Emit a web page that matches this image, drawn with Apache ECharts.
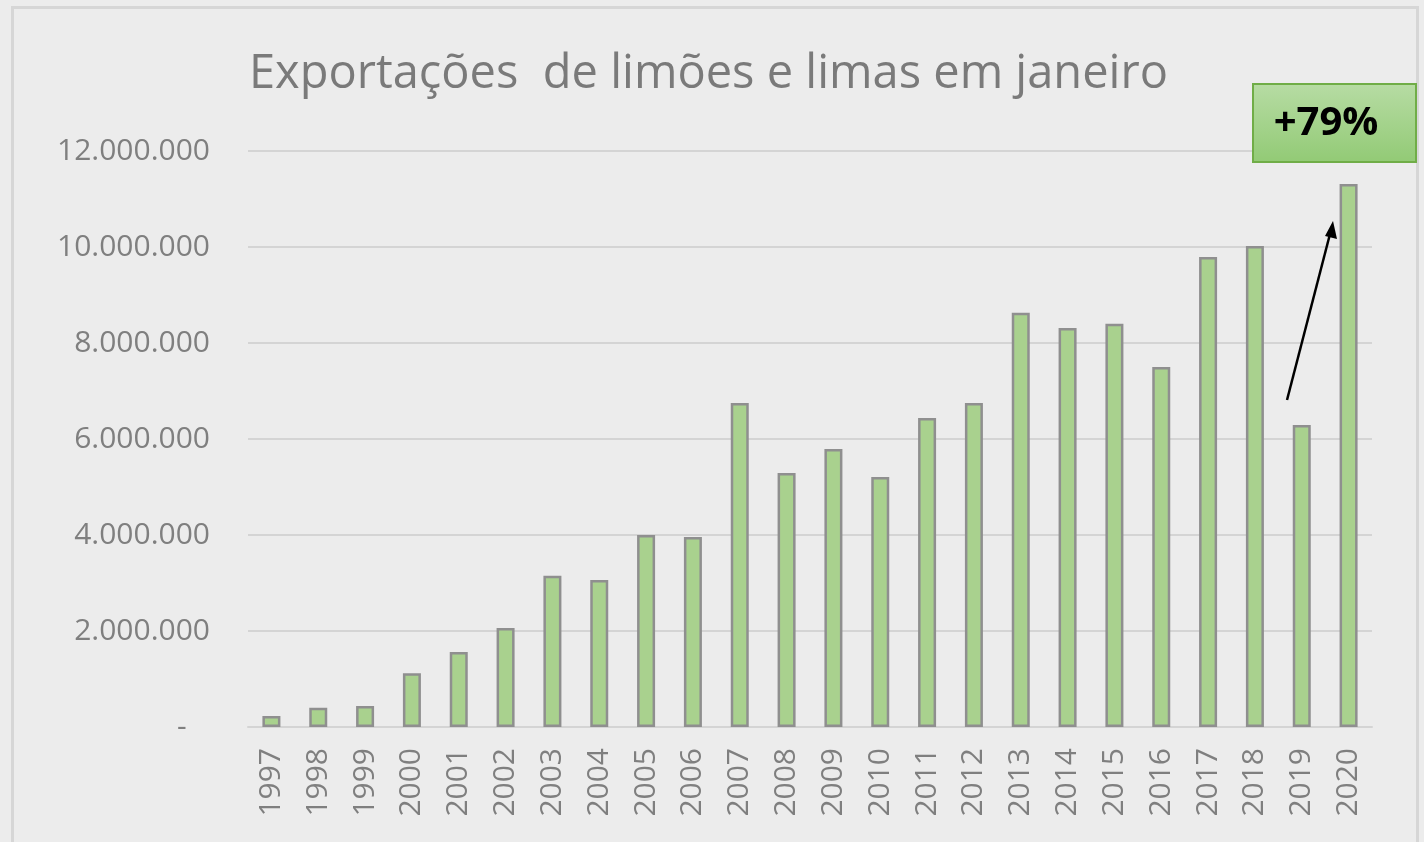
<!DOCTYPE html>
<html>
<head>
<meta charset="utf-8">
<script src="https://cdn.jsdelivr.net/npm/echarts@6/dist/echarts.min.js"></script>
<style>
html,body{margin:0;padding:0;background:#ececec;}
#chart{width:1424px;height:842px;}
</style>
</head>
<body>
<div id="chart"></div>
<script>
const years = ['1997','1998','1999','2000','2001','2002','2003','2004','2005','2006','2007','2008','2009','2010','2011','2012','2013','2014','2015','2016','2017','2018','2019','2020'];
const exportsJan = [230000,400000,440000,1120000,1560000,2060000,3150000,3060000,4000000,3960000,6750000,5290000,5790000,5210000,6440000,6750000,8630000,8310000,8400000,7500000,9790000,10020000,6290000,11310000];
const yTicks = [0,2000000,4000000,6000000,8000000,10000000,12000000];
const titleText = 'Exportações  de limões e limas em janeiro';
const annotationText = '+79%';

function fmt(v){
  if (v === 0) return '-   ';
  return String(v).replace(/\B(?=(\d{3})+(?!\d))/g, '.');
}

const chart = echarts.init(document.getElementById('chart'));
chart.setOption({
  backgroundColor: '#ececec',
  animation: false,
  title: {
    text: titleText,
    left: 244, top: 46,
    textStyle: {fontFamily: 'Open Sans', fontSize: 47, fontWeight: 'normal', color: '#7a7a7a'}
  },
  grid: {left: 248, right: 52, top: 151, bottom: 115, containLabel: false},
  xAxis: {
    type: 'category',
    data: years,
    axisLine: {lineStyle: {color: '#d4d4d4', width: 2}},
    axisTick: {show: false},
    axisLabel: {rotate: 90, color: '#7f7f7f', fontFamily: 'Open Sans', fontSize: 30, margin: 21}
  },
  yAxis: {
    type: 'value',
    min: yTicks[0], max: yTicks[yTicks.length-1], interval: yTicks[1]-yTicks[0],
    axisLine: {show: false},
    axisTick: {show: false},
    splitLine: {lineStyle: {color: '#d4d4d4', width: 2}},
    axisLabel: {formatter: fmt, color: '#7f7f7f', fontFamily: 'Open Sans', fontSize: 30, margin: 38}
  },
  series: [{
    type: 'bar',
    data: exportsJan,
    barWidth: 18,
    itemStyle: {color: '#a9d18e', borderColor: '#8f8f8f', borderWidth: 2.5}
  }],
  graphic: [
    {type: 'rect', left: 10, top: 5, shape: {width: 1405, height: 850}, style: {fill: 'none', stroke: '#d6d6d6', lineWidth: 3}, z: -1},
    {type: 'rect', left: 1252, top: 83, shape: {width: 163, height: 78},
      style: {fill: new echarts.graphic.LinearGradient(0,0,0,1,[{offset:0,color:'#b7dca4'},{offset:1,color:'#92ca75'}]), stroke: '#70ad47', lineWidth: 2}, z: 10},
    {type: 'text', x: 1326, y: 124, style: {text: annotationText, fontFamily: 'Open Sans', fontWeight: 'bold', fontSize: 40, fill: '#000', align: 'center', verticalAlign: 'middle'}, z: 11},
    {type: 'line', shape: {x1: 1287, y1: 400, x2: 1330, y2: 234}, style: {stroke: '#000', lineWidth: 2.5}, z: 10},
    {type: 'polygon', shape: {points: [[1333,221],[1325,236],[1337,239]]}, style: {fill: '#000'}, z: 10}
  ]
});
</script>
</body>
</html>
